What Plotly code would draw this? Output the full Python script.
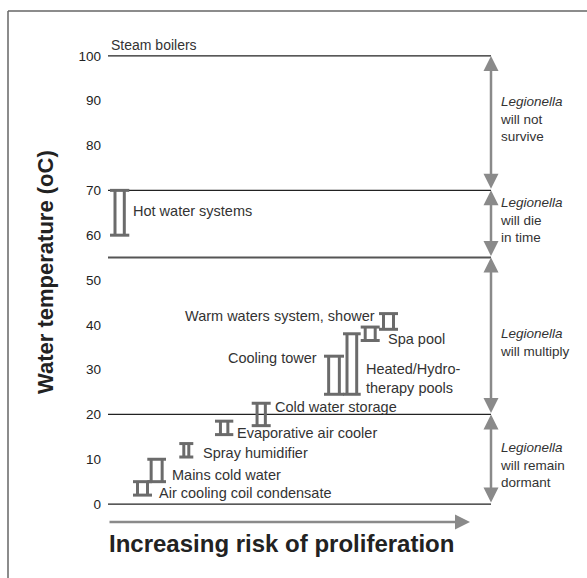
import plotly.graph_objects as go

# ---- data ----
items = ["Hot water systems", "Air cooling coil condensate", "Mains cold water",
         "Spray humidifier", "Evaporative air cooler", "Cold water storage",
         "Cooling tower", "Heated/Hydro-<br>therapy pools", "Spa pool",
         "Warm waters system, shower"]
temp_low = [60, 2, 5, 10.5, 15.5, 17.5, 24.5, 24.5, 36.5, 39]
temp_high = [70, 5, 10, 13.5, 18.5, 22.5, 33, 38, 39.5, 42.5]

thresholds = [0, 20, 55, 70, 100]
zone_texts = ["will remain<br>dormant", "will multiply", "will die<br>in time", "will not<br>survive"]
y_ticks = [0, 10, 20, 30, 40, 50, 60, 70, 80, 90, 100]

# ---- layout helpers (positions / styles) ----
bx = [11.65, 34.5, 48.65, 78.3, 116.15, 153.2, 226, 243.85, 262.2, 280.5]   # bracket centres
bw = [19.3, 19, 18.7, 14, 18.3, 19, 20, 17.7, 19, 19]                      # cap widths
bg = [9.3, 10, 11, 5, 7.4, 8.3, 10.7, 9.7, 10, 10]                          # post gaps
lab_pos = [(22.7, 65.4, "left"), (48.7, 2.5, "left"), (62, 6.5, "left"),
           (92.7, 11.45, "left"), (127, 15.8, "left"), (165.3, 21.7, "left"),
           (211.3, 32.7, "right"), (256, 28, "left"), (278, 36.8, "left"),
           (268.7, 42, "right")]
zone_label_y = [8.7, 36.1, 63.4, 85.9]

XMAX = 383
YMIN, YMAX = -4, 104
FONT = "Liberation Sans, Arial, sans-serif"
TXT = "#333333"


def px(xd):
    return xd / XMAX


def py(t):
    return (t - YMIN) / (YMAX - YMIN)


fig = go.Figure()

# threshold lines
for t in thresholds:
    fig.add_trace(go.Scatter(x=[0, XMAX], y=[t, t], mode="lines",
                             line=dict(color="#555555" if t == 55 else "#222222",
                                       width=2 if t == 55 else 1.3),
                             hoverinfo="skip", showlegend=False))

# brackets
for i, name in enumerate(items):
    lo, hi = temp_low[i], temp_high[i]
    c, w, g = bx[i], bw[i], bg[i]
    xs = [c - w / 2, c + w / 2, None, c - w / 2, c + w / 2, None,
          c - g / 2, c - g / 2, None, c + g / 2, c + g / 2]
    ys = [hi, hi, None, lo, lo, None, lo, hi, None, lo, hi]
    fig.add_trace(go.Scatter(x=xs, y=ys, mode="lines",
                             line=dict(color="#6b6b6b", width=3),
                             hoverinfo="skip", showlegend=False, cliponaxis=False))
    lx, ly, xa = lab_pos[i]
    fig.add_annotation(x=lx, y=ly, xref="x", yref="y", text=name, showarrow=False,
                       xanchor=xa, yanchor="middle", align="left",
                       font=dict(family=FONT, size=14.5, color=TXT))

fig.add_annotation(x=0.5, y=102.4, xref="x", yref="y", text="Steam boilers", showarrow=False,
                   xanchor="left", yanchor="middle", font=dict(family=FONT, size=14, color=TXT))

# vertical double arrows between thresholds + zone labels
for k in range(len(thresholds) - 1):
    lo, hi = thresholds[k], thresholds[k + 1]
    fig.add_annotation(x=XMAX, y=hi, ax=XMAX, ay=lo, xref="x", yref="y", axref="x", ayref="y",
                       text="", showarrow=True, arrowhead=2, arrowside="end+start",
                       arrowsize=1.2, arrowwidth=2.5, arrowcolor="#8a8a8a",
                       standoff=0, startstandoff=0)
    fig.add_annotation(x=px(XMAX + 7), y=py(zone_label_y[k]), xref="paper", yref="paper",
                       text="<i>Legionella</i><br>" + zone_texts[k], align="left",
                       showarrow=False, xanchor="left", yanchor="middle",
                       font=dict(family=FONT, size=13.5, color=TXT))

# bottom arrow
fig.add_annotation(x=362, y=-4, ax=0, ay=-4, xref="x", yref="y", axref="x", ayref="y",
                   text="", showarrow=True, arrowhead=2, arrowsize=1.2, arrowwidth=2.5,
                   arrowcolor="#8a8a8a", standoff=0)
fig.add_annotation(x=px(-1), y=py(-8.9), xref="paper", yref="paper",
                   text="<b>Increasing risk of proliferation</b>",
                   showarrow=False, xanchor="left", yanchor="middle",
                   font=dict(family=FONT, size=24, color="#222222"))

# y title
fig.add_annotation(x=px(-62), y=py(51.8), xref="paper", yref="paper",
                   text="<b>Water temperature (oC)</b>",
                   showarrow=False, textangle=-90, xanchor="center", yanchor="middle",
                   font=dict(family=FONT, size=22, color="#222222"))

# frame (open to the right/bottom)
fig.add_shape(type="line", xref="paper", yref="paper", x0=px(-100), x1=px(600),
              y0=py(110.05), y1=py(110.05), line=dict(color="#666666", width=1.5))
fig.add_shape(type="line", xref="paper", yref="paper", x0=px(-100), x1=px(-100),
              y0=py(110.05), y1=py(-30), line=dict(color="#666666", width=1.5))

fig.update_layout(
    width=587, height=578,
    margin=dict(l=108, r=96, t=38, b=56),
    paper_bgcolor="white", plot_bgcolor="white",
    showlegend=False,
    xaxis=dict(range=[0, XMAX], visible=False, fixedrange=True),
    yaxis=dict(range=[YMIN, YMAX], tickvals=y_ticks, ticktext=[str(v) for v in y_ticks],
               showgrid=False, zeroline=False, showline=False, ticks="",
               ticklabelstandoff=6, fixedrange=True,
               tickfont=dict(family=FONT, size=13.5, color="#222222")),
)

fig.write_html("out.html", config={"displayModeBar": False},
               post_script="document.body.style.margin='0';")
